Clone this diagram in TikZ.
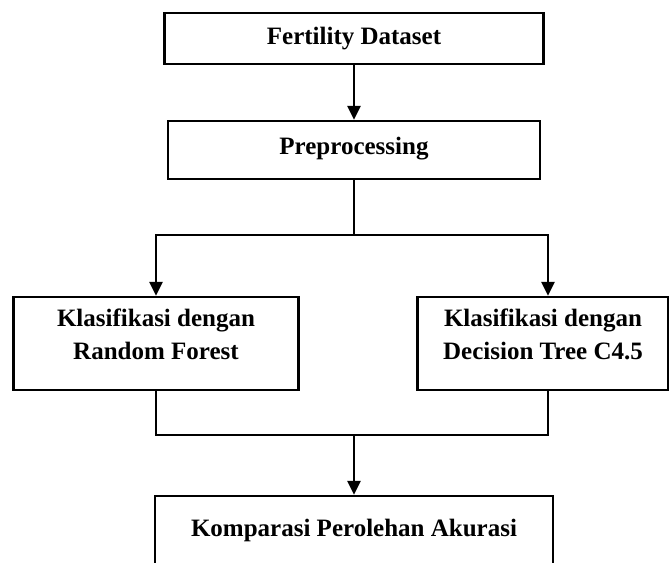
\documentclass[tikz,border=0pt]{standalone}
\usepackage{fontspec}
\setmainfont{Liberation Serif}
\usetikzlibrary{positioning, calc, arrows.meta}

\tikzset{
  box/.style={draw, rectangle, line width=2.4pt, inner sep=0pt, align=center,
    font=\fontsize{25}{33}\selectfont\bfseries},
  twoline/.style={box, minimum height=93pt, text depth=19pt},
  link/.style={line width=2.6pt},
  arr/.style={link, -{Triangle[length=14pt, width=13pt]}}
}

\begin{document}
\begin{tikzpicture}[x=1pt, y=-1pt]
  \clip (0,0) rectangle (669,562);

  % boxes
  \node[box, minimum width=379pt, minimum height=51pt] (data) at (354, 38.5) {Fertility Dataset};
  \node[box, minimum width=372pt, minimum height=58pt, text depth=9pt] (pre) at (354, 150) {Preprocessing};
  \node[twoline, minimum width=285pt] (rf) at (156, 343.5) {Klasifikasi dengan\\Random Forest};
  \node[twoline, minimum width=251pt] (dt) at (543, 343.5) {Klasifikasi dengan\\Decision Tree C4.5};
  \node[box, minimum width=398pt, minimum height=70pt, text depth=7pt] (komp) at (354, 531) {Komparasi Perolehan Akurasi};

  % branch points
  \coordinate (split) at (354, 235);
  \coordinate (join) at (354, 435);
  \coordinate (dtin) at ($(dt.north)+(5,0)$);
  \coordinate (dtout) at ($(dt.south)+(5,0)$);

  % connectors
  \draw[arr] (data) -- (pre);
  \draw[link] (pre) -- (split);
  \draw[arr] (split) -| (rf.north);
  \draw[arr] (split) -| (dtin);
  \draw[link] (rf.south) |- (join) -| (dtout);
  \draw[arr] (join) -- (komp);
\end{tikzpicture}
\end{document}
